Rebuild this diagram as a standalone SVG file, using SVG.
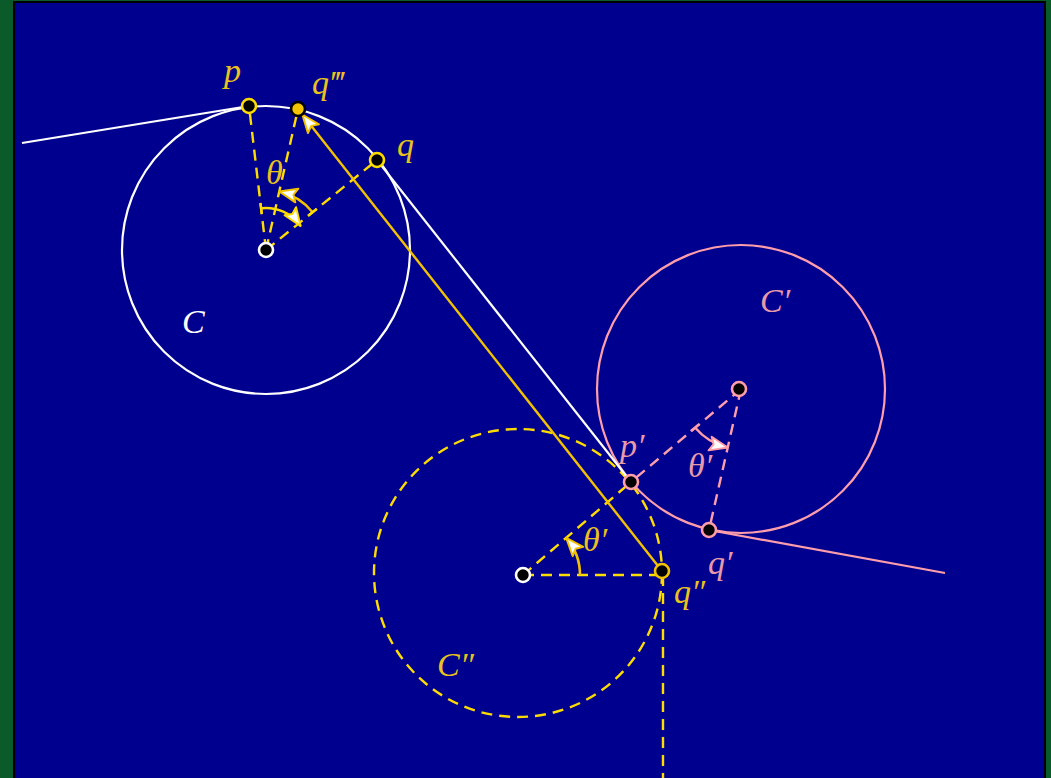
<svg xmlns="http://www.w3.org/2000/svg" width="1051" height="778" viewBox="0 0 1051 778">
<style>
.lbl{font-family:"Liberation Serif","DejaVu Serif",serif;font-style:italic;font-size:34px}
.ly{fill:#e9c21c}
.lp{fill:#e89aa8}
.lw{fill:#ffffff}
.dy{fill:none;stroke:#ffdc00;stroke-width:2.4;stroke-dasharray:11 7}
.dp{fill:none;stroke:#ff9eaa;stroke-width:2.4;stroke-dasharray:11 7}
.pt{fill:#000;stroke-width:2.6}
</style>
<defs>
<marker id="ay" markerUnits="userSpaceOnUse" markerWidth="24" markerHeight="20" refX="18" refY="7" orient="auto" overflow="visible">
<path d="M0,0 L18,7 L0,14 L3.5,7 Z" fill="#fff" stroke="#ffdc00" stroke-width="2" stroke-linejoin="round"/>
</marker>
<marker id="ag" markerUnits="userSpaceOnUse" markerWidth="24" markerHeight="20" refX="18" refY="7" orient="auto" overflow="visible">
<path d="M0,0 L18,7 L0,14 L3.5,7 Z" fill="#fff" stroke="#f2c200" stroke-width="2" stroke-linejoin="round"/>
</marker>
<marker id="ap" markerUnits="userSpaceOnUse" markerWidth="24" markerHeight="20" refX="18" refY="7" orient="auto" overflow="visible">
<path d="M0,0 L18,7 L0,14 L3.5,7 Z" fill="#fff" stroke="#ff9eaa" stroke-width="2" stroke-linejoin="round"/>
</marker>
<marker id="ty" markerUnits="userSpaceOnUse" markerWidth="4" markerHeight="14" refX="0" refY="0" orient="auto" overflow="visible">
<line x1="0" y1="-5.5" x2="0" y2="5.5" stroke="#ffdc00" stroke-width="2.4"/>
</marker>
<marker id="tp" markerUnits="userSpaceOnUse" markerWidth="4" markerHeight="14" refX="0" refY="0" orient="auto" overflow="visible">
<line x1="0" y1="-5.5" x2="0" y2="5.5" stroke="#ff9eaa" stroke-width="2.4"/>
</marker>
</defs>
<rect x="0" y="0" width="1051" height="778" fill="#0b5a2a"/>
<rect x="14" y="2" width="1031" height="800" fill="#00008f" stroke="#000" stroke-width="2"/>

<g id="circle-C">
<circle cx="266" cy="250" r="144" fill="none" stroke="#fff" stroke-width="2.2"/>
<text class="lbl lw" x="182" y="333">C</text>
</g>
<g id="circle-C1">
<circle cx="741" cy="389" r="144" fill="none" stroke="#ff9eaa" stroke-width="2.2"/>
<text class="lbl lp" x="760" y="312">C′</text>
</g>
<g id="circle-C2">
<circle cx="518" cy="573" r="144" class="dy"/>
<text class="lbl ly" x="437" y="676">C″</text>
</g>

<g id="connectors">
<line x1="22" y1="143" x2="249" y2="106" stroke="#fff" stroke-width="2.2"/>
<line x1="377" y1="160" x2="631" y2="482" stroke="#fff" stroke-width="2.2"/>
<line x1="709" y1="530" x2="945" y2="573" stroke="#ff9eaa" stroke-width="2.2"/>
<line x1="266" y1="250" x2="249" y2="106" class="dy"/>
<line x1="266" y1="250" x2="298" y2="109" class="dy"/>
<line x1="266" y1="250" x2="377" y2="160" class="dy"/>
<path d="M261.1,208.3 A42,42 0 0 1 300.6,226" fill="none" stroke="#ffdc00" stroke-width="2.4" marker-start="url(#ty)" marker-end="url(#ay)"/>
<path d="M312.6,212.2 A60,60 0 0 0 279.3,191.5" fill="none" stroke="#f2c200" stroke-width="2.4" marker-start="url(#ty)" marker-end="url(#ag)"/>
<line x1="741" y1="389" x2="631" y2="482" class="dp"/>
<line x1="741" y1="389" x2="709" y2="530" class="dp"/>
<path d="M695,427.6 A60,60 0 0 0 727.7,447.5" fill="none" stroke="#ff9eaa" stroke-width="2.4" marker-start="url(#tp)" marker-end="url(#ap)"/>
<line x1="523" y1="575" x2="631" y2="482" class="dy"/>
<line x1="523" y1="575" x2="662" y2="575" class="dy"/>
<line x1="663" y1="575" x2="663" y2="778" class="dy"/>
<path d="M580,575 A57,57 0 0 0 566.2,537.8" fill="none" stroke="#f2c200" stroke-width="2.6" marker-end="url(#ag)"/>
<line x1="662" y1="571" x2="302.3" y2="114.5" stroke="#f2c200" stroke-width="2.4" marker-end="url(#ag)"/>
</g>

<g id="point-p"><circle cx="249" cy="106" r="7" class="pt" stroke="#ffdc00"/><text class="lbl ly" x="224" y="82">p</text></g>
<g id="point-q3"><circle cx="298" cy="109" r="7" fill="#f5c400" stroke="#000" stroke-width="2.6"/><text class="lbl ly" x="312" y="94">q‴</text></g>
<g id="point-q"><circle cx="377" cy="160" r="7" class="pt" stroke="#ffdc00"/><text class="lbl ly" x="397" y="156">q</text></g>
<g id="center-C"><circle cx="266" cy="250" r="7" class="pt" stroke="#fff"/></g>
<g id="label-theta"><text class="lbl ly" x="266" y="184">θ</text></g>
<g id="center-C1"><circle cx="739" cy="389" r="7" class="pt" stroke="#ff9eaa"/></g>
<g id="point-p1"><circle cx="631" cy="482" r="7" class="pt" stroke="#ff9eaa"/><text class="lbl lp" x="620" y="457">p′</text></g>
<g id="point-q1"><circle cx="709" cy="530" r="7" class="pt" stroke="#ff9eaa"/><text class="lbl lp" x="708" y="574">q′</text></g>
<g id="label-theta1"><text class="lbl lp" x="688" y="477">θ′</text></g>
<g id="center-C2"><circle cx="523" cy="575" r="7" class="pt" stroke="#fff"/></g>
<g id="point-q2"><circle cx="662" cy="571" r="7" class="pt" stroke="#f2c200"/><text class="lbl ly" x="674" y="603">q″</text></g>
<g id="label-theta2"><text class="lbl ly" x="583" y="551">θ′</text></g>
</svg>
